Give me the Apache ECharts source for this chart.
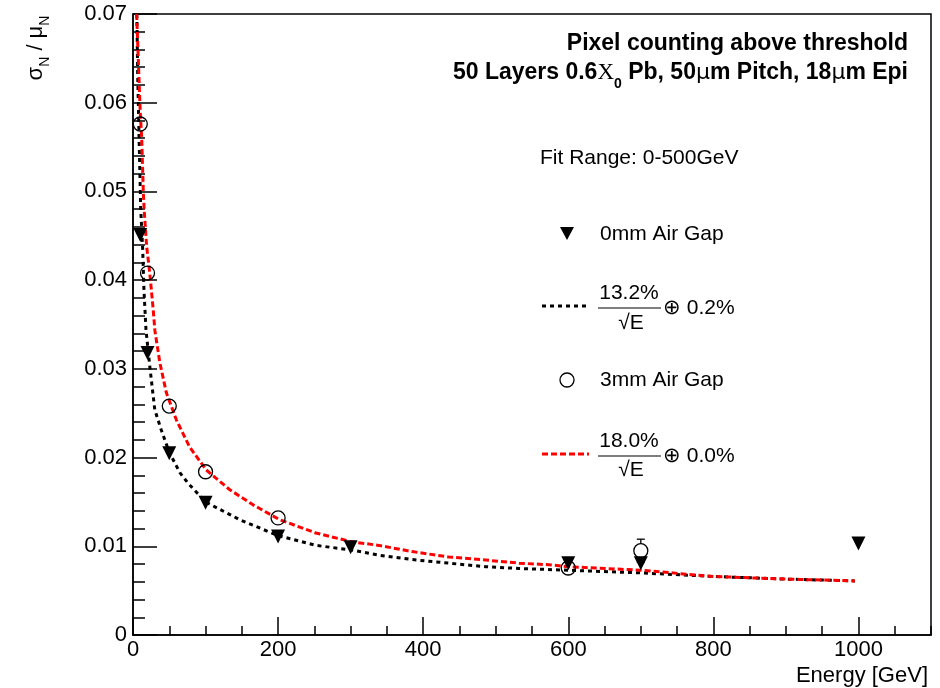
<!DOCTYPE html>
<html><head><meta charset="utf-8">
<script src="https://cdn.jsdelivr.net/npm/echarts@6/dist/echarts.min.js"></script>
<style>html,body{margin:0;padding:0;background:#fff}#c{width:940px;height:688px}</style>
</head><body><div id="c"></div>
<script>
// ---- data ----
const energy0mm = [10, 20, 50, 100, 200, 300, 600, 700, 1000];
const sigma0mm  = [0.0451, 0.0318, 0.0205, 0.0149, 0.0111, 0.0099, 0.0081, 0.0081, 0.0103];
const err0mm    = [0.0003, 0.0003, 0.0003, 0.0002, 0.0002, 0.0002, 0.0002, 0.0004, 0.0002];

const energy3mm = [10, 20, 50, 100, 200, 600, 700];
const sigma3mm  = [0.0576, 0.0408, 0.0258, 0.0184, 0.0132, 0.00755, 0.0095];
const err3mm    = [0.0004, 0.0003, 0.0003, 0.0002, 0.0002, 0.0002, 0.0013];

const fitEnergy0mm = [5.3, 6.5, 8.7, 10.6, 13.3, 15.1, 17.9, 23.4, 30, 39, 50, 64.6, 76, 100, 147, 200, 252, 300, 339, 385, 435, 486, 532, 600, 700, 800, 900, 995];
const fitSigma0mm  = [0.0700, 0.0630, 0.0549, 0.0481, 0.0436, 0.0389, 0.0344, 0.0301, 0.0254, 0.0231, 0.0206, 0.0183, 0.0171, 0.0150, 0.0130, 0.0112, 0.0101, 0.0096, 0.0090, 0.0085, 0.0081, 0.0077, 0.0075, 0.0073, 0.0070, 0.0066, 0.0063, 0.0061];

const fitEnergy3mm = [5, 9.6, 10.5, 11.9, 12.8, 14.2, 15.5, 17.4, 18.8, 22, 24.3, 27.9, 30.2, 37, 46, 60, 78, 101, 133, 165, 202, 252, 302, 339, 385, 435, 486, 532, 577, 600, 700, 800, 900, 995];
const fitSigma3mm  = [0.0700, 0.0597, 0.0581, 0.0562, 0.0538, 0.0500, 0.0478, 0.0455, 0.0438, 0.0416, 0.0398, 0.0366, 0.0343, 0.0307, 0.0273, 0.0242, 0.0212, 0.0186, 0.0164, 0.0147, 0.0130, 0.0115, 0.0105, 0.0101, 0.0094, 0.0088, 0.00845, 0.0081, 0.0079, 0.0077, 0.0073, 0.0066, 0.0063, 0.0061];

const xTickInterval = 200, xMinorInterval = 50, xMax = 1100;
const yTickInterval = 0.01, yMax = 0.07;

const titleLine1 = 'Pixel counting above threshold';
const fitRangeText = 'Fit Range: 0-500GeV';
const legendNames = ['0mm Air Gap', '3mm Air Gap'];
const fitTexts = [['13.2%', '0.2%'], ['18.0%', '0.0%']];

// ---- chart ----
const FONT = '"Liberation Sans", Helvetica, Arial, sans-serif';
const chart = echarts.init(document.getElementById('c'), null, {renderer: 'canvas'});

const zip = (a, b) => a.map((v, i) => [v, b[i]]);
const zip3 = (a, b, c) => a.map((v, i) => [v, b[i], c[i]]);

function errRender(params, api) {
  const x = api.value(0), y = api.value(1), e = api.value(2);
  const c = api.coord([x, y]);
  const t = api.coord([x, y + e]);
  const b = api.coord([x, y - e]);
  const r = 7, cap = 4;
  const st = {stroke: '#000', lineWidth: 1.3};
  const ch = [];
  if (c[1] - t[1] > r) {
    ch.push({type: 'line', shape: {x1: c[0], y1: c[1] - r, x2: c[0], y2: t[1]}, style: st});
    ch.push({type: 'line', shape: {x1: c[0] - cap, y1: t[1], x2: c[0] + cap, y2: t[1]}, style: st});
  }
  if (b[1] - c[1] > r) {
    ch.push({type: 'line', shape: {x1: c[0], y1: c[1] + r, x2: c[0], y2: b[1]}, style: st});
    ch.push({type: 'line', shape: {x1: c[0] - cap, y1: b[1], x2: c[0] + cap, y2: b[1]}, style: st});
  }
  return {type: 'group', children: ch};
}

const txt = (x, y, text, extra) => Object.assign({
  type: 'text', x: x, y: y, z: 100,
  style: Object.assign({text: text, fill: '#000', font: '21px ' + FONT, align: 'left', verticalAlign: 'middle'}, extra || {})
});

const option = {
  animation: false,
  backgroundColor: '#fff',
  grid: {left: 133, top: 14, right: 9, bottom: 53, show: true, borderColor: '#000', borderWidth: 1.5, backgroundColor: 'transparent'},
  xAxis: [{
    type: 'value', min: 0, max: xMax, interval: xTickInterval, position: 'bottom',
    axisLine: {show: true, onZero: false, lineStyle: {color: '#000', width: 1.5}},
    axisTick: {show: true, inside: true, length: 18, lineStyle: {color: '#000', width: 1.5}},
    axisLabel: {color: '#000', fontSize: 22, fontFamily: FONT, margin: 4, showMaxLabel: false, formatter: v => String(v)},
    splitLine: {show: false},
    name: 'Energy [GeV]', nameLocation: 'end', nameGap: -3,
    nameTextStyle: {color: '#000', fontSize: 22, fontFamily: FONT, align: 'right', verticalAlign: 'top', padding: [30, 0, 0, 0]}
  }, {
    type: 'value', min: 0, max: xMax, interval: xMinorInterval, position: 'bottom',
    axisLine: {show: false, onZero: false},
    axisTick: {show: true, inside: true, length: 9, lineStyle: {color: '#000', width: 1.5}},
    axisLabel: {show: false}, splitLine: {show: false}
  }],
  yAxis: {
    type: 'value', min: 0, max: yMax, interval: yTickInterval,
    axisLine: {show: true, onZero: false, lineStyle: {color: '#000', width: 1.5}},
    axisTick: {show: true, inside: true, length: 24, lineStyle: {color: '#000', width: 1.5}},
    minorTick: {show: true, splitNumber: 5, length: 12, lineStyle: {color: '#000', width: 1.5}},
    axisLabel: {color: '#000', fontSize: 22, fontFamily: FONT, margin: 6},
    splitLine: {show: false}, minorSplitLine: {show: false}
  },
  graphic: [
    // y-axis title
    {type: 'text', x: 36, y: 48, rotation: Math.PI / 2, z: 100,
     style: {text: '{m|σ}{s|N}{m| / μ}{s|N}', align: 'center', verticalAlign: 'middle', fill: '#000',
       rich: {m: {fontSize: 22, fontFamily: FONT, verticalAlign: 'middle', fill: '#000'},
              s: {fontSize: 14, fontFamily: FONT, verticalAlign: 'bottom', padding: [18, 0, 0, 0], fill: '#000'}}}},
    // title lines
    txt(908, 44, titleLine1, {align: 'right', font: 'bold 23px ' + FONT}),
    {type: 'text', x: 908, y: 73, z: 100,
     style: {text: '{b|50 Layers 0.6}{x|X}{s|0}{b| Pb, 50}{mu|μ}{b|m Pitch, 18}{mu|μ}{b|m Epi}', align: 'right', verticalAlign: 'middle', fill: '#000',
       rich: {b: {fontSize: 23, fontWeight: 'bold', fontFamily: FONT, verticalAlign: 'middle'},
              x: {fontSize: 23, fontFamily: '"Liberation Serif", serif', verticalAlign: 'middle'},
              mu: {fontSize: 22, fontFamily: '"DejaVu Sans", sans-serif', verticalAlign: 'middle'},
              s: {fontSize: 14, fontWeight: 'bold', fontFamily: FONT, verticalAlign: 'bottom', padding: [22, 0, 0, 0]}}}},
    // legend block
    txt(540, 158, fitRangeText),
    {type: 'polygon', z: 100, shape: {points: [[560, 227], [574, 227], [567, 240]]}, style: {fill: '#000'}},
    txt(600, 234, legendNames[0]),
    {type: 'line', z: 100, shape: {x1: 542, y1: 306, x2: 589, y2: 306}, style: {stroke: '#000', lineWidth: 3, lineDash: [4, 4]}},
    txt(629, 293, fitTexts[0][0], {align: 'center'}),
    {type: 'line', z: 100, shape: {x1: 598, y1: 308, x2: 661, y2: 308}, style: {stroke: '#000', lineWidth: 1.2}},
    txt(631, 323, '√E', {align: 'center'}),
    txt(663, 308, '⊕ ' + fitTexts[0][1]),
    {type: 'circle', z: 100, shape: {cx: 567, cy: 380, r: 7}, style: {fill: '#fff', stroke: '#000', lineWidth: 1.3}},
    txt(600, 380, legendNames[1]),
    {type: 'line', z: 100, shape: {x1: 542, y1: 454, x2: 589, y2: 454}, style: {stroke: '#ff0000', lineWidth: 3, lineDash: [6, 3]}},
    txt(629, 441, fitTexts[1][0], {align: 'center'}),
    {type: 'line', z: 100, shape: {x1: 598, y1: 456, x2: 661, y2: 456}, style: {stroke: '#000', lineWidth: 1.2}},
    txt(631, 470, '√E', {align: 'center'}),
    txt(663, 456, '⊕ ' + fitTexts[1][1])
  ],
  series: [
    {name: 'fit 0mm', type: 'line', data: zip(fitEnergy0mm, fitSigma0mm), showSymbol: false, silent: true, clip: true, z: 2,
     lineStyle: {color: '#000', width: 3, type: [4, 4]}},
    {name: 'fit 3mm', type: 'line', data: zip(fitEnergy3mm, fitSigma3mm), showSymbol: false, silent: true, clip: true, z: 3,
     lineStyle: {color: '#ff0000', width: 3, type: [6, 3]}},
    {name: 'err 0mm', type: 'custom', renderItem: errRender, data: zip3(energy0mm, sigma0mm, err0mm), encode: {x: 0, y: 1}, z: 4},
    {name: 'err 3mm', type: 'custom', renderItem: errRender, data: zip3(energy3mm, sigma3mm, err3mm), encode: {x: 0, y: 1}, z: 4},
    {name: legendNames[0], type: 'scatter', data: zip(energy0mm, sigma0mm), symbol: 'triangle', symbolRotate: 180, symbolSize: 14, z: 5,
     itemStyle: {color: '#000', opacity: 1}},
    {name: legendNames[1], type: 'scatter', data: zip(energy3mm, sigma3mm), symbol: 'circle', symbolSize: 14, z: 6,
     itemStyle: {color: 'rgba(0,0,0,0)', borderColor: '#000', borderWidth: 1.3, opacity: 1}}
  ]
};
chart.setOption(option);
</script>
</body></html>
